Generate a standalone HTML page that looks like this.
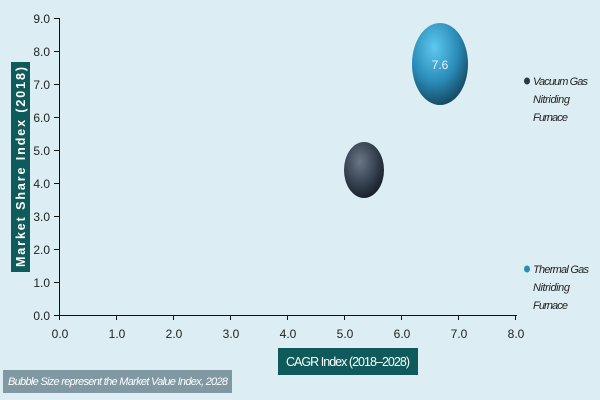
<!DOCTYPE html>
<html><head><style>
body{margin:0;width:600px;height:400px;background:#dceef4;font-family:"Liberation Sans",sans-serif;overflow:hidden;position:relative}
</style></head><body>
<svg width="600" height="400" style="position:absolute;left:0;top:0">
<defs>
<radialGradient id="gb" cx="0.4" cy="0.3" r="0.7">
<stop offset="0" stop-color="#5ec8ef"/><stop offset="0.6" stop-color="#2a8cb8"/><stop offset="1" stop-color="#164d68"/></radialGradient>
<radialGradient id="gd" cx="0.4" cy="0.35" r="0.7">
<stop offset="0" stop-color="#6a7686"/><stop offset="0.6" stop-color="#34404e"/><stop offset="1" stop-color="#151c25"/></radialGradient>
</defs>
<g stroke="#111" stroke-width="1">
<line x1="59.5" y1="18" x2="59.5" y2="315"/>
<line x1="59" y1="315.5" x2="517" y2="315.5"/>
<line x1="54" y1="18.5" x2="59" y2="18.5"/><line x1="54" y1="51.5" x2="59" y2="51.5"/><line x1="54" y1="84.5" x2="59" y2="84.5"/><line x1="54" y1="117.5" x2="59" y2="117.5"/><line x1="54" y1="150.5" x2="59" y2="150.5"/><line x1="54" y1="183.5" x2="59" y2="183.5"/><line x1="54" y1="216.5" x2="59" y2="216.5"/><line x1="54" y1="249.5" x2="59" y2="249.5"/><line x1="54" y1="282.5" x2="59" y2="282.5"/><line x1="54" y1="315.5" x2="59" y2="315.5"/>
<line x1="59.5" y1="315" x2="59.5" y2="320"/><line x1="116.5" y1="315" x2="116.5" y2="320"/><line x1="173.5" y1="315" x2="173.5" y2="320"/><line x1="230.5" y1="315" x2="230.5" y2="320"/><line x1="287.5" y1="315" x2="287.5" y2="320"/><line x1="344.5" y1="315" x2="344.5" y2="320"/><line x1="401.5" y1="315" x2="401.5" y2="320"/><line x1="458.5" y1="315" x2="458.5" y2="320"/><line x1="515.5" y1="315" x2="515.5" y2="320"/>
</g>
<ellipse cx="440" cy="64" rx="28" ry="41" fill="url(#gb)"/>
<text x="440" y="69" fill="#eef" font-size="12" text-anchor="middle" font-family="Liberation Sans">7.6</text>
<ellipse cx="364" cy="170" rx="20" ry="28" fill="url(#gd)"/>
<ellipse cx="527" cy="81" rx="3" ry="3.5" fill="#2c3644"/>
<ellipse cx="527" cy="269" rx="3" ry="3.5" fill="#2a8cb8"/>
<rect x="11" y="62" width="19" height="210" fill="#0f5b5b"/>
<text transform="translate(25,267) rotate(-90)" fill="#fff" font-size="12.5" font-weight="bold" font-family="Liberation Sans" textLength="200">Market Share Index (2018)</text>
<rect x="278" y="348" width="140" height="27" fill="#0f5b5b"/>
<text x="348" y="366" fill="#fff" font-size="12.5" text-anchor="middle" font-family="Liberation Sans" textLength="124">CAGR Index (2018–2028)</text>
<rect x="3" y="370" width="229" height="23" fill="#7f98a2"/>
<text x="8" y="385" fill="#fff" font-size="11" font-style="italic" font-family="Liberation Sans" textLength="220">Bubble Size represent the Market Value Index, 2028</text>
<g font-size="12" fill="#222" font-family="Liberation Sans" text-anchor="end">
<text x="50" y="23">9.0</text><text x="50" y="56">8.0</text><text x="50" y="89">7.0</text><text x="50" y="122">6.0</text><text x="50" y="155">5.0</text><text x="50" y="188">4.0</text><text x="50" y="221">3.0</text><text x="50" y="254">2.0</text><text x="50" y="287">1.0</text><text x="50" y="320">0.0</text>
</g>
<g font-size="12" fill="#222" font-family="Liberation Sans" text-anchor="middle">
<text x="60" y="338">0.0</text><text x="117" y="338">1.0</text><text x="174" y="338">2.0</text><text x="231" y="338">3.0</text><text x="288" y="338">4.0</text><text x="345" y="338">5.0</text><text x="402" y="338">6.0</text><text x="459" y="338">7.0</text><text x="516" y="338">8.0</text>
</g>
<g font-size="11" fill="#222" font-style="italic" font-family="Liberation Sans">
<text x="533" y="85" textLength="55">Vacuum Gas</text><text x="533" y="103" textLength="37">Nitriding</text><text x="533" y="121" textLength="35">Furnace</text>
<text x="533" y="273" textLength="56">Thermal Gas</text><text x="533" y="291" textLength="37">Nitriding</text><text x="533" y="309" textLength="35">Furnace</text>
</g>
</svg>
</body></html>
